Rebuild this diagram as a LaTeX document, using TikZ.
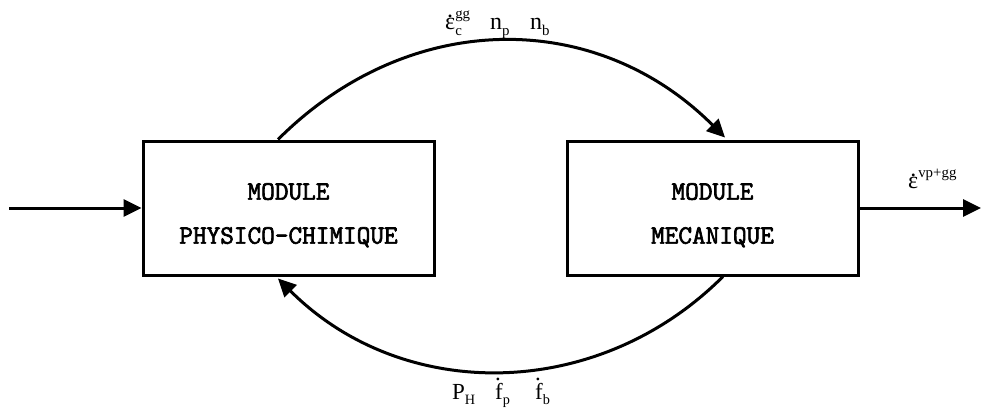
\documentclass[tikz,border=0pt]{standalone}
\usepackage{fontspec}
\usepackage{graphicx}
\setmainfont{Liberation Serif}
\newfontfamily\modfont{Latin Modern Mono}[FakeBold=2.5]
\usetikzlibrary{arrows.meta,calc}
\newcommand\dotover[2]{\leavevmode\ooalign{#2\cr\hidewidth\raisebox{#1}{.}\hidewidth\cr}}
\newcommand\lsup[1]{\raisebox{0.42em}{\scalebox{0.62}{#1}}}
\newcommand\lsub[1]{\raisebox{-0.25em}{\scalebox{0.62}{#1}}}
\newcommand\lsupsub[2]{\rlap{\lsub{#2}}\lsup{#1}}
\begin{document}
\begin{tikzpicture}[x=1pt,y=-1pt,
  modbox/.style={draw,line width=3pt,minimum width=291pt,minimum height=134pt,
    align=center,font=\modfont\fontsize{26.5}{44}\selectfont,inner sep=0pt},
  conn/.style={line width=3pt,-{Triangle[length=18pt,width=17pt]}},
  toplbl/.style={anchor=base west,inner sep=0pt,font=\fontsize{24}{24}\selectfont},
  botlbl/.style={anchor=base west,inner sep=0pt,font=\fontsize{23}{23}\selectfont}]
\useasboundingbox (0,0) rectangle (982,410);
\node[modbox] (b1) at (288.5,208) {\rule{0pt}{31pt}MODULE\\PHYSICO-CHIMIQUE};
\node[modbox] (b2) at (712.5,208) {\rule{0pt}{31pt}MODULE\\MECANIQUE};
\coordinate (in) at (9,208);
\coordinate (out) at (981,208);
\draw[conn] (in) -- (b1.west);
\draw[conn] (b2.east) -- (out);
\coordinate (t1) at ([xshift=-10.5pt]b1.north);
\coordinate (t2) at ([xshift=12.5pt,yshift=2pt]b2.north);
\coordinate (s1) at ([xshift=10.5pt]b2.south);
\coordinate (s2) at ([xshift=-10.5pt,yshift=-2pt]b1.south);
\draw[conn] (t1) .. controls ($(t1)+(130,-130)$) and ($(t2)+(-130,-130)$) .. (t2);
\draw[conn] (s1) .. controls ($(s1)+(-125,125)$) and ($(s2)+(125,125)$) .. (s2);
\node[toplbl] (l1) at (445,29) {\dotover{0.46em}{ε}\lsupsub{gg}{c}};
\node[toplbl] (l2) at (490,29) {n\lsub{p}};
\node[toplbl] (l3) at (530,29) {n\lsub{b}};
\node[botlbl] (l4) at (452,399) {P\lsub{H}};
\node[botlbl] (l5) at (493,399) {\dotover{0.8em}{\hspace{2pt}f}\lsub{p}};
\node[botlbl] (l6) at (533,399) {\dotover{0.8em}{\hspace{2pt}f}\lsub{b}};
\node[toplbl] (l7) at (908,188) {\dotover{0.46em}{ε}\lsup{vp+gg}};
\end{tikzpicture}
\end{document}
